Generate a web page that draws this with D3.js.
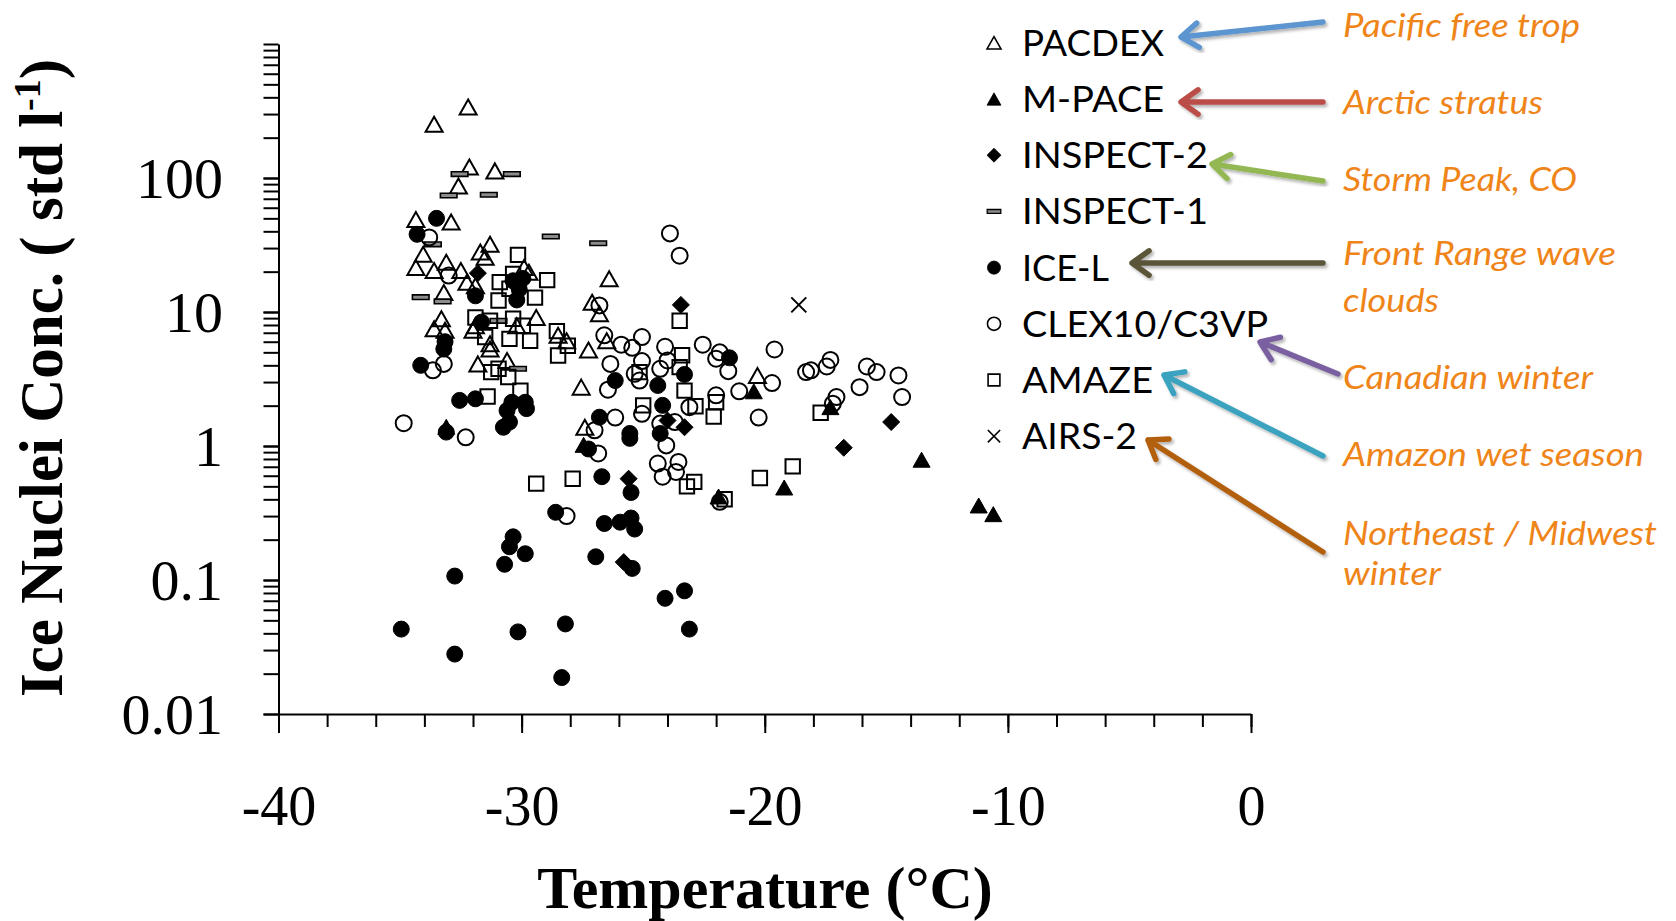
<!DOCTYPE html>
<html><head><meta charset="utf-8">
<script src="https://cdn.jsdelivr.net/npm/d3@7"></script>
<style>body{margin:0;background:#fff;overflow:hidden}</style>
</head><body>
<svg id="chart" width="1676" height="921"></svg>
<script>
// ---------------- DATA (temperature °C, IN concentration std l^-1) ----------------
const seriesNames = ["PACDEX","M-PACE","INSPECT-2","INSPECT-1","ICE-L","CLEX10/C3VP","AMAZE","AIRS-2"];

const pacdex = [[-32.2,339],[-33.6,252],[-32.15,121],[-31.1,113],[-32.6,87],[-34.35,49],[-32.9,47],[-31.3,32],[-31.7,28],[-34.05,27],[-31.5,25.6],[-34.35,21.5],[-33.6,20.4],[-33.1,23.5],[-32.5,20.4],[-32.25,16.7],[-29.9,21.5],[-29.7,19.8],[-33.2,14],[-33.3,8.9],[-29.4,9.1],[-26.4,17.7],[-27.1,11.8],[-26.8,9.7],[-33.6,7.5],[-33.15,7.3],[-31.9,15.7],[-32.0,7.3],[-30.2,7.9],[-31.9,7.9],[-31.3,5.8],[-28.5,6.7],[-28.15,6.1],[-31.3,5.3],[-31.8,4.1],[-30.6,4.35],[-27.25,5.2],[-27.55,2.75],[-27.4,1.38],[-26.5,6.1],[-20.3,3.36]];

const mpace = [[-33.1,1.39],[-27.45,1.02],[-21.9,0.42],[-19.2,0.49],[-20.45,2.56],[-17.3,1.95],[-13.55,0.79],[-11.2,0.36],[-10.6,0.31]];

const inspect2 = [[-31.8,19.5],[-25.6,0.57],[-25.8,0.136],[-24.0,1.55],[-23.3,1.38],[-23.45,11.3],[-14.8,1.51],[-16.75,0.97]];

const inspect1 = [[-32.55,107],[-30.4,107],[-33.0,74],[-31.35,75],[-33.65,32],[-28.8,36.6],[-26.85,32.6],[-34.15,12.9],[-33.25,12],[-30.15,3.77],[-30.95,8.6]];

const iceL = [[-34.3,38],[-33.5,50],[-34.15,4.0],[-33.15,6.0],[-33.2,5.3],[-32.55,2.19],[-31.9,2.25],[-31.9,13.2],[-31.65,8.4],[-30.35,17.1],[-30.1,14.8],[-30.2,12.3],[-29.95,17.8],[-30.4,2.12],[-30.6,1.84],[-30.75,1.38],[-30.5,1.51],[-29.8,1.9],[-29.85,2.12],[-33.1,1.27],[-27.25,0.95],[-26.8,1.64],[-26.15,3.08],[-24.4,2.83],[-23.3,3.42],[-24.2,2.01],[-25.55,1.24],[-25.55,1.14],[-24.3,1.24],[-21.45,4.55],[-26.7,0.59],[-25.5,0.45],[-28.6,0.32],[-26.6,0.264],[-25.95,0.27],[-25.5,0.29],[-25.35,0.24],[-26.95,0.149],[-25.45,0.122],[-30.35,0.21],[-30.5,0.177],[-29.85,0.157],[-30.7,0.131],[-32.75,0.107],[-34.95,0.043],[-32.75,0.028],[-30.15,0.041],[-28.2,0.047],[-28.35,0.0187],[-24.1,0.073],[-23.3,0.083],[-23.1,0.043]];

const clex = [[-33.8,36],[-33.0,18.7],[-26.8,11.2],[-34.85,1.48],[-33.65,3.67],[-33.2,4.1],[-32.3,1.16],[-28.15,0.30],[-27.0,1.31],[-26.85,0.88],[-26.35,4.1],[-26.45,2.63],[-26.6,6.7],[-25.9,5.7],[-25.45,5.4],[-25.05,6.5],[-24.1,5.5],[-25.35,3.46],[-25.05,4.3],[-24.3,3.77],[-24.0,4.35],[-25.15,3.08],[-25.05,1.74],[-24.3,1.47],[-23.7,1.51],[-26.15,1.63],[-24.05,1.01],[-24.4,0.74],[-23.55,0.76],[-24.2,0.59],[-23.65,0.64],[-23.9,38.6],[-23.5,26.3],[-22.55,5.7],[-21.85,5.0],[-22.0,4.48],[-21.5,3.62],[-19.6,5.25],[-19.7,2.95],[-20.25,1.63],[-21.05,2.56],[-22.0,2.39],[-23.1,1.95],[-21.85,0.383],[-18.3,3.56],[-18.1,3.67],[-17.45,3.92],[-17.3,4.39],[-15.8,3.92],[-15.4,3.56],[-16.1,2.75],[-14.5,3.36],[-14.35,2.32],[-17.05,2.32],[-17.2,2.07]];

const amaze = [[-30.15,26.7],[-28.95,17.3],[-30.9,16.7],[-29.45,12.8],[-31.9,9.1],[-28.55,7.2],[-30.95,12.2],[-30.35,19.2],[-30.5,14.9],[-31.3,8.6],[-30.35,8.9],[-29.95,7.9],[-29.65,6.1],[-30.5,6.3],[-31.5,6.5],[-28.5,4.73],[-28.1,5.6],[-31.25,3.56],[-30.95,3.77],[-30.55,3.27],[-30.05,2.59],[-31.4,2.34],[-29.4,0.524],[-27.9,0.57],[-25.15,3.56],[-25.0,2.01],[-23.5,3.88],[-23.3,2.59],[-23.4,4.75],[-23.5,8.6],[-22.85,1.98],[-22.0,2.12],[-22.1,1.66],[-23.2,0.50],[-22.9,0.54],[-21.65,0.40],[-20.2,0.577],[-18.85,0.705],[-17.7,1.77]];

const airs2 = [[-18.6,11.3]];

const xTickValues = d3.range(-40, 1, 2);
const xTickLabels = [-40, -30, -20, -10, 0];
const yTickLabels = [0.01, 0.1, 1, 10, 100];

const annotationLines = [
  ["Pacific free trop"],
  ["Arctic stratus"],
  ["Storm Peak, CO"],
  ["Front Range wave", "clouds"],
  ["Canadian winter"],
  ["Amazon wet season"],
  ["Northeast / Midwest", "winter"]
];
const arrowColors = ["#5b95cf","#bb4d49","#93b852","#5a5538","#7a61a0","#3ba2bf","#b2600f"];

// ---------------- LAYOUT ----------------
const L = {x0: 278.5, x1: 1251, y0: 714, y1: 44};
const svg = d3.select("#chart");
const x = d3.scaleLinear().domain([-40, 0]).range([L.x0, L.x1]);
const y = d3.scaleLog().domain([0.01, 1000]).range([L.y0, L.y1]);

const serif = "'Liberation Serif','Times New Roman',serif";
const sans = "Lato, 'Open Sans', sans-serif";

// ---------------- AXES ----------------
const yMinor = [];
for (let e = -2; e <= 2; e++) for (let k = 1; k <= 9; k++) yMinor.push(k * Math.pow(10, e));
yMinor.push(1000);

const gy = svg.append("g").attr("transform", `translate(${L.x0},0)`)
  .call(d3.axisLeft(y).tickValues(yMinor).tickSize(15).tickSizeOuter(0).tickFormat(""));
const gyl = svg.append("g").attr("transform", `translate(${L.x0},0)`)
  .call(d3.axisLeft(y).tickValues(yTickLabels).tickSize(15).tickSizeOuter(0)
  .tickFormat(d => String(d)));
gyl.selectAll("text").attr("x", -55.5).attr("dy", "0.34em")
  .style("font-family", serif).style("font-size", "58px").attr("fill", "#000");

const gx = svg.append("g").attr("transform", `translate(0,${L.y0})`)
  .call(d3.axisBottom(x).tickValues(xTickValues).tickSize(13).tickSizeOuter(0).tickFormat(""));
const gxl = svg.append("g").attr("transform", `translate(0,${L.y0})`)
  .call(d3.axisBottom(x).tickValues(xTickLabels).tickSize(19).tickSizeOuter(0)
  .tickFormat(d => String(d)));
gxl.selectAll("text").attr("y", 111).attr("dy", 0)
  .style("font-family", serif).style("font-size", "56px").attr("fill", "#000");

svg.selectAll(".domain, .tick line").attr("stroke", "#000").attr("stroke-width", 2);
gyl.select(".domain").remove(); gxl.select(".domain").remove();

// axis titles
svg.append("text").attr("x", 765).attr("y", 908).attr("text-anchor", "middle")
  .style("font-family", serif).style("font-weight", "bold").style("font-size", "60px")
  .text("Temperature (°C)");

const yt = svg.append("text").attr("transform", "translate(62,378) rotate(-90)")
  .attr("text-anchor", "middle")
  .style("font-family", serif).style("font-weight", "bold").style("font-size", "61px");
yt.append("tspan").text("Ice Nuclei Conc. ( std l");
yt.append("tspan").attr("dy", -22).style("font-size", "38px").text("-1");
yt.append("tspan").attr("dy", 22).text(")");

// ---------------- MARKERS ----------------
function markerPath(kind, s) {
  const p = d3.path();
  if (kind === "tri") { p.moveTo(0, -7.5*s); p.lineTo(8.5*s, 7.5*s); p.lineTo(-8.5*s, 7.5*s); p.closePath(); }
  else if (kind === "diamond") { p.moveTo(0, -8.5*s); p.lineTo(8.5*s, 0); p.lineTo(0, 8.5*s); p.lineTo(-8.5*s, 0); p.closePath(); }
  else if (kind === "dash") { p.rect(-8.3*s, -2.3*s, 16.6*s, 4.6*s); }
  else if (kind === "circle") { p.moveTo(8*s, 0); p.arc(0, 0, 8*s, 0, 2*Math.PI); p.closePath(); }
  else if (kind === "square") { p.rect(-7.2*s, -7.2*s, 14.4*s, 14.4*s); }
  else if (kind === "x") { p.moveTo(-7.5*s, -7.5*s); p.lineTo(7.5*s, 7.5*s); p.moveTo(7.5*s, -7.5*s); p.lineTo(-7.5*s, 7.5*s); }
  return p.toString();
}
const styles = [
  {data: pacdex,   kind: "tri",     fill: "none",  stroke: "#000", sw: 2},
  {data: mpace,    kind: "tri",     fill: "#000",  stroke: "#000", sw: 1},
  {data: inspect2, kind: "diamond", fill: "#000",  stroke: "#000", sw: 1},
  {data: inspect1, kind: "dash",    fill: "#8c8c8c", stroke: "#000", sw: 1.6},
  {data: iceL,     kind: "circle",  fill: "#000",  stroke: "#000", sw: 1},
  {data: clex,     kind: "circle",  fill: "none",  stroke: "#000", sw: 2},
  {data: amaze,    kind: "square",  fill: "none",  stroke: "#000", sw: 2},
  {data: airs2,    kind: "x",       fill: "none",  stroke: "#000", sw: 2}
];

const plot = svg.append("g");
styles.forEach(st => {
  plot.append("g").selectAll("path").data(st.data).join("path")
    .attr("transform", d => `translate(${x(d[0])},${y(d[1])})`)
    .attr("d", markerPath(st.kind, 1))
    .attr("fill", st.fill).attr("stroke", st.stroke).attr("stroke-width", st.sw);
});

// ---------------- LEGEND ----------------
const leg = {symX: 994, textX: 1022, base0: 55.8, step: 56.2};
const legendWidths = [142, 142, 186, 186, 87, 246, 131, 115];
const lg = svg.append("g");
seriesNames.forEach((name, i) => {
  const st = styles[i];
  const by = leg.base0 + i * leg.step;
  lg.append("path").attr("transform", `translate(${leg.symX},${by - 13})`)
    .attr("d", markerPath(st.kind, 0.82))
    .attr("fill", st.fill).attr("stroke", st.stroke).attr("stroke-width", st.sw * 0.8);
  lg.append("text").attr("x", leg.textX).attr("y", by)
    .attr("textLength", legendWidths[i]).attr("lengthAdjust", "spacingAndGlyphs")
    .style("font-family", sans).style("font-size", "37px").attr("fill", "#000").text(name);
});

// ---------------- ANNOTATIONS ----------------
const ann = {x: 1343, orange: "#ef8519"};
const annBaselines = [[36.5],[113.5],[191],[265,312],[389],[466],[545,585]];
const annWidths = [[237],[200],[234],[273,96],[250],[301],[314,98]];
const arrowTail = [[1323,22],[1323,102],[1323,181],[1323,263],[1338,374],[1323,456],[1323,552]];
const arrowHead = [[1181,37],[1181,102],[1212,164],[1132,263],[1260,342],[1164,375],[1148,440]];

const defs = svg.append("defs");
const f = defs.append("filter").attr("id", "sh").attr("x", "-20%").attr("y", "-20%").attr("width", "140%").attr("height", "140%");
f.append("feDropShadow").attr("dx", 2).attr("dy", 2.5).attr("stdDeviation", 1.5)
  .attr("flood-color", "#000").attr("flood-opacity", 0.3);

const ag = svg.append("g");
annotationLines.forEach((lines, i) => {
  lines.forEach((t, j) => {
    ag.append("text").attr("x", ann.x).attr("y", annBaselines[i][j])
      .attr("textLength", annWidths[i][j]).attr("lengthAdjust", "spacingAndGlyphs")
      .style("font-family", sans).style("font-style", "italic").style("font-size", "32px")
      .attr("fill", ann.orange).text(t);
  });
  const [tx, ty] = arrowTail[i], [hx, hy] = arrowHead[i];
  const ang = Math.atan2(ty - hy, tx - hx);
  const arm = 21, spread = 0.62;
  const p = d3.path();
  p.moveTo(tx, ty); p.lineTo(hx, hy);
  p.moveTo(hx + arm * Math.cos(ang + spread), hy + arm * Math.sin(ang + spread));
  p.lineTo(hx, hy);
  p.lineTo(hx + arm * Math.cos(ang - spread), hy + arm * Math.sin(ang - spread));
  ag.append("path").attr("d", p.toString()).attr("fill", "none")
    .attr("stroke", arrowColors[i]).attr("stroke-width", 5.5)
    .attr("stroke-linecap", "round").attr("stroke-linejoin", "round")
    .attr("filter", "url(#sh)");
});
</script>
</body></html>
